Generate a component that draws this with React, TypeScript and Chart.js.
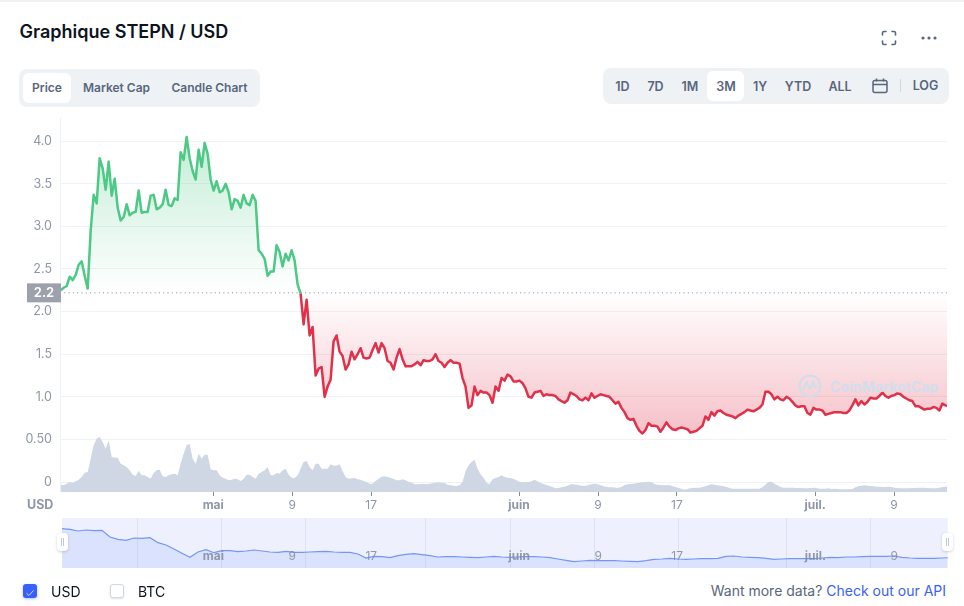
import React, { useEffect, useRef } from "react";
import { Chart, registerables } from "chart.js";

Chart.register(...registerables);

const FONT = "Inter, 'Noto Sans', sans-serif";

// Days counted from 1 May
const tickDays = [0, 8, 16, 31, 39, 47, 61, 69];
const tickLabels = ["mai", "9", "17", "juin", "9", "17", "juil.", "9"];
const monthLabels = ["mai", "juin", "juil."];
const priceTicks = [0, 0.5, 1, 1.5, 2, 2.5, 3, 3.5, 4];
const priceTickLabels = ["0", "0.50", "1.0", "1.5", "2.0", "2.5", "3.0", "3.5", "4.0"];
const openPrice = 2.22;
const openPriceLabel = "2.2";
const firstDay = -15.46;
const dayStep = 0.30395;
const navFirstDay = -15.33;
const navDayStep = 0.8105;
const navGridDays = [-7.63, 0.88, 9.39, 21.55, 30.16, 38.67, 47.18, 58.12, 66.63];

const greenPrices = [
  2.25, 2.28, 2.3, 2.41, 2.37, 2.43, 2.55, 2.59, 2.42, 2.27, 2.95, 3.37, 3.27, 3.8, 3.68, 3.43, 3.76, 3.36, 3.56, 3.22,
  3.07, 3.11, 3.26, 3.13, 3.16, 3.17, 3.42, 3.16, 3.17, 3.17, 3.36, 3.37, 3.2, 3.22, 3.26, 3.43, 3.25, 3.24, 3.33, 3.31,
  3.87, 3.78, 4.05, 3.8, 3.65, 3.55, 3.9, 3.7, 3.98, 3.85, 3.55, 3.42, 3.53, 3.4, 3.42, 3.5, 3.4, 3.2, 3.32, 3.3,
  3.22, 3.37, 3.27, 3.25, 3.37, 3.3, 2.72, 2.68, 2.62, 2.42, 2.47, 2.47, 2.78, 2.7, 2.53, 2.68, 2.6, 2.72, 2.6, 2.32,
  2.21,
];

const redPrices = [
  2.21, 1.85, 2.14, 1.72, 1.82, 1.25, 1.33, 1.35, 1.0, 1.12, 1.2, 1.65, 1.72, 1.53, 1.48, 1.32, 1.38, 1.53, 1.44, 1.5,
  1.57, 1.46, 1.45, 1.46, 1.55, 1.63, 1.52, 1.63, 1.57, 1.42, 1.4, 1.32, 1.46, 1.56, 1.44, 1.36, 1.36, 1.36, 1.38, 1.41,
  1.37, 1.43, 1.42, 1.42, 1.44, 1.5, 1.42, 1.4, 1.35, 1.4, 1.43, 1.4, 1.4, 1.39, 1.22, 1.12, 0.87, 0.9, 1.12, 1.02,
  1.07, 1.05, 1.05, 1.02, 0.93, 1.12, 1.07, 1.22, 1.19, 1.26, 1.24, 1.18, 1.18, 1.19, 1.16, 1.1, 1.0, 0.99, 1.05, 1.06,
  1.07, 1.01, 1.03, 1.02, 1.02, 1.01, 0.97, 0.95, 0.93, 0.96, 1.05, 1.03, 1.01, 0.97, 0.96, 0.99, 0.96, 1.04, 0.99, 1.01,
  1.03, 1.02, 1.01, 1.0, 0.96, 0.92, 0.94, 0.87, 0.82, 0.75, 0.73, 0.74, 0.66, 0.6, 0.57, 0.61, 0.69, 0.66, 0.66, 0.65,
  0.59, 0.64, 0.7, 0.65, 0.62, 0.61, 0.63, 0.64, 0.63, 0.62, 0.58, 0.59, 0.6, 0.63, 0.66, 0.77, 0.73, 0.82, 0.78, 0.83,
  0.84, 0.81, 0.79, 0.78, 0.77, 0.75, 0.78, 0.8, 0.82, 0.85, 0.84, 0.83, 0.85, 0.87, 0.91, 1.06, 1.06, 1.03, 0.97, 1.0,
  0.97, 0.96, 1.0, 0.98, 0.94, 0.9, 0.88, 0.89, 0.89, 0.81, 0.79, 0.87, 0.85, 0.85, 0.84, 0.79, 0.8, 0.81, 0.82, 0.82,
  0.82, 0.81, 0.81, 0.84, 0.9, 0.97, 0.9, 0.95, 0.91, 0.94, 0.99, 0.98, 0.98, 1.01, 1.05, 1.01, 0.99, 1.01, 1.02, 1.04,
  1.03, 1.0, 0.98, 0.96, 0.95, 0.89, 0.89, 0.87, 0.85, 0.86, 0.86, 0.88, 0.87, 0.84, 0.92, 0.9, 0.89,
];

const volumes = [
  73, 67, 83, 100, 93, 107, 123, 150, 193, 200, 333, 467, 533, 550, 500, 433, 517, 350, 343, 343,
  283, 267, 250, 217, 173, 160, 210, 167, 167, 150, 133, 190, 217, 223, 157, 150, 167, 177, 183, 167,
  283, 383, 467, 483, 333, 283, 383, 333, 373, 373, 227, 217, 217, 167, 143, 133, 117, 123, 133, 127,
  110, 133, 173, 173, 150, 133, 183, 200, 217, 250, 167, 167, 190, 183, 217, 233, 173, 143, 140, 167,
  233, 300, 310, 250, 217, 283, 283, 233, 233, 233, 277, 263, 263, 277, 210, 150, 133, 137, 140, 127,
  123, 110, 100, 83, 83, 110, 133, 153, 157, 150, 143, 130, 117, 117, 127, 117, 103, 93, 77, 77,
  80, 83, 77, 83, 87, 93, 97, 93, 90, 73, 67, 63, 60, 67, 100, 207, 267, 300, 323, 233,
  177, 143, 93, 77, 127, 140, 150, 167, 150, 143, 137, 133, 117, 100, 97, 97, 100, 107, 123, 107,
  90, 80, 70, 60, 50, 37, 40, 47, 53, 63, 77, 77, 73, 67, 60, 63, 70, 77, 83, 77,
  70, 57, 50, 47, 47, 43, 43, 50, 70, 77, 80, 83, 87, 93, 97, 100, 103, 97, 80, 73,
  70, 67, 67, 67, 57, 50, 40, 33, 23, 30, 37, 40, 43, 43, 50, 57, 67, 77, 73, 67,
  63, 57, 50, 40, 33, 33, 33, 33, 33, 33, 33, 33, 33, 33, 47, 73, 100, 103, 83, 67,
  50, 43, 43, 43, 43, 40, 40, 40, 37, 37, 40, 43, 40, 33, 33, 33, 37, 30, 33, 30,
  27, 27, 27, 27, 30, 47, 57, 63, 67, 63, 60, 57, 53, 53, 50, 50, 53, 50, 43, 40,
  37, 37, 37, 37, 40, 40, 43, 43, 43, 40, 37, 37, 37, 43, 50, 53, 57,
];

const navPrices = [
  3.93, 3.87, 3.7, 3.8, 3.73, 3.77, 3.1, 2.87, 2.77, 3.0, 2.97, 3.03, 2.53, 2.3, 1.9, 1.47, 1.07, 1.6, 1.83, 1.53,
  1.73, 1.73, 1.63, 1.7, 1.8, 1.7, 1.6, 1.57, 1.67, 1.57, 1.57, 1.6, 1.63, 1.67, 1.6, 1.57, 1.57, 1.4, 1.0, 1.17,
  1.13, 1.03, 1.23, 1.37, 1.43, 1.33, 1.23, 1.1, 1.13, 1.13, 1.1, 1.07, 1.03, 1.1, 1.17, 1.1, 1.07, 1.1, 1.13, 1.13,
  1.1, 1.03, 0.9, 0.77, 0.63, 0.7, 0.77, 0.73, 0.73, 0.73, 0.7, 0.67, 0.63, 0.73, 0.87, 0.9, 0.97, 0.9, 0.87, 0.9,
  0.93, 0.93, 0.97, 1.17, 1.2, 1.1, 1.07, 1.03, 0.97, 0.87, 0.9, 0.93, 0.93, 0.93, 0.93, 1.0, 1.07, 1.03, 1.1, 1.1,
  1.13, 1.17, 1.17, 1.17, 1.2, 1.07, 1.0, 0.97, 0.97, 0.97, 1.0, 1.03,
];

const MUTED = "#58667e";
const AXIS_TEXT = "#8f96a8";

function MainChart() {
  const ref = useRef<HTMLCanvasElement>(null);
  useEffect(() => {
    const badge = {
      id: "badge",
      afterDraw(chart: any) {
        const { ctx, scales } = chart;
        const y = scales.y.getPixelForValue(openPrice);
        ctx.save();
        ctx.fillStyle = "#9da1ac";
        ctx.fillRect(27, y - 9.5, 34, 19);
        ctx.fillStyle = "#fff";
        ctx.font = `600 13px ${FONT}`;
        ctx.textAlign = "center";
        ctx.textBaseline = "middle";
        ctx.fillText(openPriceLabel, 44, y + 0.5);
        ctx.restore();
      },
    };
    const toPoints = (values: number[], offset: number) =>
      values.map((y, i) => ({ x: firstDay + (i + offset) * dayStep, y }));
    const chart = new Chart(ref.current!, {
      type: "line",
      plugins: [badge],
      data: {
        datasets: [
          {
            label: "Volume",
            yAxisID: "y2",
            order: 3,
            data: toPoints(volumes, 0),
            borderWidth: 0,
            pointRadius: 0,
            backgroundColor: "#cfd6e4",
            fill: "start",
          },
          {
            label: "Open",
            order: 2,
            data: [
              { x: -15.53, y: openPrice },
              { x: 74.37, y: openPrice },
            ],
            borderColor: "#808a9d",
            borderWidth: 1,
            borderDash: [1, 3.3],
            pointRadius: 0,
            fill: false,
          },
          {
            label: "Price up",
            order: 1,
            data: toPoints(greenPrices, 0),
            borderColor: "#4cc985",
            borderWidth: 2.5,
            borderJoinStyle: "round",
            pointRadius: 0,
            tension: 0,
            fill: { target: { value: openPrice } },
            backgroundColor: (c: any) => {
              const { chart: ch } = c;
              if (!ch.chartArea) return "transparent";
              const g = ch.ctx.createLinearGradient(0, ch.scales.y.getPixelForValue(4.05), 0, ch.scales.y.getPixelForValue(openPrice));
              g.addColorStop(0, "rgba(76,201,133,0.33)");
              g.addColorStop(1, "rgba(76,201,133,0)");
              return g;
            },
          },
          {
            label: "Price down",
            order: 0,
            data: toPoints(redPrices, greenPrices.length - 1),
            borderColor: "#e0304a",
            borderWidth: 2.5,
            borderJoinStyle: "round",
            pointRadius: 0,
            tension: 0,
            fill: { target: { value: openPrice } },
            backgroundColor: (c: any) => {
              const { chart: ch } = c;
              if (!ch.chartArea) return "transparent";
              const g = ch.ctx.createLinearGradient(0, ch.scales.y.getPixelForValue(openPrice), 0, ch.scales.y.getPixelForValue(0.57));
              g.addColorStop(0, "rgba(224,48,74,0)");
              g.addColorStop(1, "rgba(224,48,74,0.3)");
              return g;
            },
          },
        ],
      },
      options: {
        animation: false,
        responsive: false,
        layout: { padding: { left: 0, right: 17, top: 0, bottom: 0 } },
        plugins: { legend: { display: false }, tooltip: { enabled: false } },
        scales: {
          x: {
            type: "linear",
            min: -15.53,
            max: 74.37,
            border: { display: false },
            grid: { drawOnChartArea: false, color: "transparent", tickColor: "#808a9d", tickLength: 4 } as any,
            afterBuildTicks: (axis: any) => {
              axis.ticks = tickDays.map((value) => ({ value }));
            },
            afterFit: (axis: any) => {
              axis.height = 28;
            },
            ticks: {
              autoSkip: false,
              maxRotation: 0,
              padding: 2,
              color: AXIS_TEXT,
              font: (c: any) => {
                const label = tickLabels[tickDays.indexOf(c.tick?.value)];
                return { family: FONT, size: 12, weight: monthLabels.includes(label) ? "bold" : "normal" } as any;
              },
              callback: (v: any) => tickLabels[tickDays.indexOf(v)],
            },
          },
          y: {
            min: -0.117,
            max: 4.266,
            border: { color: "#eff2f5" },
            grid: { color: "#eff2f5", drawTicks: false },
            afterBuildTicks: (axis: any) => {
              axis.ticks = priceTicks.map((value) => ({ value }));
            },
            afterFit: (axis: any) => {
              axis.width = 60;
            },
            ticks: {
              padding: 8,
              color: AXIS_TEXT,
              font: { family: FONT, size: 12.5 },
              callback: (v: any) => priceTickLabels[priceTicks.indexOf(v)],
            },
          },
          y2: { display: false, min: 0, max: 3740 },
        },
      },
    });
    return () => chart.destroy();
  }, []);
  return <canvas ref={ref} width={964} height={417} style={{ position: "absolute", left: 0, top: 103, width: 964, height: 417 }} />;
}

function Navigator() {
  const ref = useRef<HTMLCanvasElement>(null);
  useEffect(() => {
    const decor = {
      id: "decor",
      beforeDraw(chart: any) {
        const { ctx, chartArea: a } = chart;
        ctx.save();
        ctx.fillStyle = "#eef1fd";
        ctx.fillRect(a.left, a.top, a.right - a.left, a.bottom - a.top);
        ctx.restore();
      },
      afterDatasetsDraw(chart: any) {
        const { ctx, scales } = chart;
        ctx.save();
        ctx.fillStyle = "rgba(128,138,157,0.85)";
        ctx.textAlign = "center";
        ctx.textBaseline = "middle";
        tickDays.forEach((d, i) => {
          ctx.font = `${monthLabels.includes(tickLabels[i]) ? "bold " : ""}12px ${FONT}`;
          ctx.fillText(tickLabels[i], scales.x.getPixelForValue(d), 38);
        });
        ctx.restore();
      },
    };
    const chart = new Chart(ref.current!, {
      type: "line",
      plugins: [decor],
      data: {
        datasets: [
          {
            data: navPrices.map((y, i) => ({ x: navFirstDay + i * navDayStep, y })),
            borderColor: "#7396f7",
            borderWidth: 1.2,
            pointRadius: 0,
            fill: "start",
            backgroundColor: "rgba(56,97,251,0.1)",
          },
        ],
      },
      options: {
        animation: false,
        responsive: false,
        layout: { padding: { left: 62, right: 16.3, top: 0, bottom: 0 } },
        plugins: { legend: { display: false }, tooltip: { enabled: false } },
        scales: {
          x: {
            type: "linear",
            min: -15.33,
            max: 74.41,
            border: { display: false },
            grid: { color: "#dde2f3", drawTicks: false },
            ticks: { display: false },
            afterBuildTicks: (axis: any) => {
              axis.ticks = navGridDays.map((value) => ({ value }));
            },
            afterFit: (axis: any) => {
              axis.height = 0;
            },
          },
          y: { display: false, min: 0, max: 5 },
        },
      },
    });
    return () => chart.destroy();
  }, []);
  return <canvas ref={ref} width={964} height={50} style={{ position: "absolute", left: 0, top: 518, width: 964, height: 50 }} />;
}

const abs = (left: number, top: number, extra: React.CSSProperties = {}): React.CSSProperties => ({
  position: "absolute",
  left,
  top,
  ...extra,
});

function Label({ cx, cy, children, color = MUTED, size = 12, weight = 600 }: any) {
  return (
    <div
      style={abs(cx, cy, {
        transform: "translate(-50%,-50%)",
        whiteSpace: "nowrap",
        color,
        fontSize: size,
        fontWeight: weight,
        lineHeight: 1,
      })}
    >
      {children}
    </div>
  );
}

function Handle({ left }: { left: number }) {
  return (
    <div
      style={abs(left, 533, {
        width: 11,
        height: 18,
        background: "#fff",
        borderRadius: 4,
        boxShadow: "0 1px 3px rgba(88,102,126,0.3)",
      })}
    >
      <div style={abs(4, 5, { width: 1, height: 8, background: "#c4c9d6" })} />
      <div style={abs(6, 5, { width: 1, height: 8, background: "#c4c9d6" })} />
    </div>
  );
}

const rangeButtons: [string, number][] = [
  ["1D", 622.5],
  ["7D", 655.5],
  ["1M", 690],
  ["3M", 726],
  ["1Y", 760],
  ["YTD", 798],
  ["ALL", 840],
];

export default function App() {
  return (
    <div style={abs(0, 0, { width: 964, height: 606, fontFamily: FONT, background: "#fff", overflow: "hidden" })}>
      <div style={abs(0, 0, { width: 964, height: 2, background: "#eff2f5" })} />
      <div style={abs(19.5, 21, { fontSize: 18, fontWeight: 600, color: "#0d1421", lineHeight: "22px", whiteSpace: "nowrap" })}>
        Graphique STEPN / USD
      </div>

      <svg style={abs(881, 30)} width={16} height={16} viewBox="0 0 16 16" fill="none" stroke="#58667e" strokeWidth={1.6} strokeLinecap="round">
        <path d="M1.5 5V3a1.5 1.5 0 0 1 1.5-1.5h2M11 1.5h2A1.5 1.5 0 0 1 14.5 3v2M14.5 11v2a1.5 1.5 0 0 1-1.5 1.5h-2M5 14.5H3A1.5 1.5 0 0 1 1.5 13v-2" />
      </svg>
      <svg style={abs(921, 35)} width={16} height={6} viewBox="0 0 16 6" fill="#58667e">
        <circle cx={2} cy={3} r={1.6} />
        <circle cx={8} cy={3} r={1.6} />
        <circle cx={14} cy={3} r={1.6} />
      </svg>

      <div style={abs(19, 69, { width: 241, height: 38, background: "#eff2f5", borderRadius: 8 })} />
      <div style={abs(23, 73, { width: 48, height: 30, background: "#fff", borderRadius: 6 })} />
      <Label cx={47} cy={88}>Price</Label>
      <Label cx={116.5} cy={88}>Market Cap</Label>
      <Label cx={209.5} cy={88}>Candle Chart</Label>

      <div style={abs(603, 68, { width: 346, height: 36, background: "#eff2f5", borderRadius: 8 })} />
      <div style={abs(707, 71, { width: 37, height: 30, background: "#fff", borderRadius: 6 })} />
      {rangeButtons.map(([t, cx]) => (
        <Label key={t} cx={cx} cy={87} size={12.5}>{t}</Label>
      ))}
      <svg style={abs(872, 78)} width={16} height={16} viewBox="0 0 16 16" fill="none" stroke="#58667e" strokeWidth={1.5}>
        <rect x={1} y={2.5} width={14} height={12} rx={2} />
        <path d="M1 6.5h14M4.5 0.5v3M11.5 0.5v3" />
      </svg>
      <div style={abs(900, 79, { width: 1, height: 13, background: "#cfd6e4" })} />
      <Label cx={925.5} cy={85.5} size={12.5}>LOG</Label>

      <MainChart />

      <svg style={abs(798, 374)} width={24} height={24} viewBox="0 0 24 24" fill="none" stroke="#cfdeec" strokeWidth={2}>
        <circle cx={12} cy={12} r={10.5} />
        <path d="M5 16l3.5-8 3.5 7 3-7 2 5 2-1" />
      </svg>
      <div style={abs(830.5, 376, { fontSize: 14.2, fontWeight: 700, color: "#cfdeec", lineHeight: "22px", whiteSpace: "nowrap" })}>
        CoinMarketCap
      </div>

      <div style={abs(27, 498, { fontSize: 12.5, fontWeight: 700, color: AXIS_TEXT, lineHeight: "14px" })}>USD</div>

      <Navigator />
      <Handle left={57} />
      <Handle left={942} />

      <div style={abs(23, 584, { width: 14, height: 14, background: "#3861fb", borderRadius: 3, boxShadow: "0 1px 3px rgba(56,97,251,0.4)" })}>
        <svg width={14} height={14} viewBox="0 0 14 14" fill="none" stroke="#cfd9fe" strokeWidth={1}>
          <path d="M3.5 7.2l2.4 2.3 4.6-5" />
        </svg>
      </div>
      <div style={abs(51, 583, { fontSize: 14, color: "#0d1421", lineHeight: "17px" })}>USD</div>
      <div style={abs(110, 584, { width: 14, height: 14, boxSizing: "border-box", border: "1px solid #cfd6e4", background: "#fff", borderRadius: 3, boxShadow: "0 1px 2px rgba(88,102,126,0.2)" })} />
      <div style={abs(138, 583, { fontSize: 14, color: "#0d1421", lineHeight: "17px" })}>BTC</div>

      <div style={{ position: "absolute", right: 18, top: 582, fontSize: 14, color: MUTED, lineHeight: "17px", whiteSpace: "nowrap" }}>
        Want more data? <span style={{ color: "#3861fb" }}>Check out our API</span>
      </div>
    </div>
  );
}
